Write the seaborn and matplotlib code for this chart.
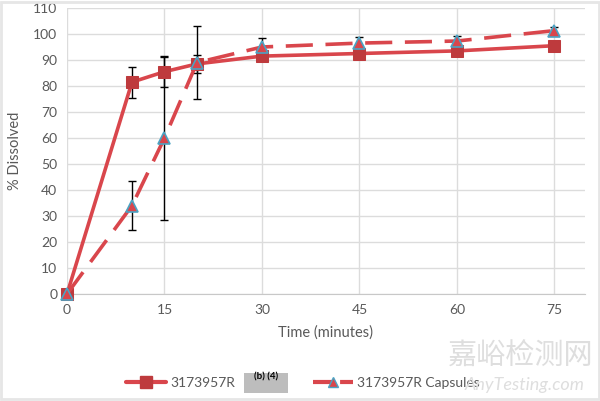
import matplotlib
matplotlib.use('Agg')
import matplotlib.pyplot as plt
import numpy as np
import pandas as pd
import seaborn as sns
from matplotlib.lines import Line2D
from matplotlib.patches import Rectangle

# data
time = [0, 10, 15, 20, 30, 45, 60, 75]
tablet = [0, 81.5, 85.5, 88.5, 91.5, 92.5, 93.5, 95.5]
tablet_sd = [0, 6.0, 5.8, 3.4, 0.8, 0.8, 0.8, 0.8]
capsule = [0, 34, 60, 89, 95, 96.5, 97.3, 101.3]
capsule_sd = [0, 9.5, 31.7, 14, 3.6, 2.3, 1.9, 1.4]
x_ticks = [0, 15, 30, 45, 60, 75]
y_ticks = list(range(0, 111, 10))
labels = ['3173957R', '3173957R Capsules']

sns.set_style('white')
plt.rcParams['font.family'] = ['Lato', 'DejaVu Sans']

red = '#d9464c'
dark_red = '#be3a3d'
blue_edge = '#4ba3c3'
grey_txt = '#595959'
grid_c = '#dcdcdc'

fig = plt.figure(figsize=(6.0, 4.01), dpi=100)
ax = fig.add_axes([67 / 600, 1 - 294 / 401, (585 - 67) / 600, (294 - 8) / 401])

# error bars
ax.errorbar(time, tablet, yerr=tablet_sd, fmt='none', ecolor='black',
            elinewidth=1, capsize=3, capthick=1, zorder=2)
ax.errorbar(time, capsule, yerr=capsule_sd, fmt='none', ecolor='black',
            elinewidth=1, capsize=3, capthick=1, zorder=2)

df1 = pd.DataFrame({'time': time, 'pct': tablet})
df2 = pd.DataFrame({'time': time, 'pct': capsule})

sns.lineplot(data=df1, x='time', y='pct', ax=ax, color=red, linewidth=2.6,
             marker='s', markersize=9, markerfacecolor=dark_red,
             markeredgecolor=dark_red, zorder=3)
sns.lineplot(data=df2, x='time', y='pct', ax=ax, color=red, linewidth=2.6,
             marker='^', markersize=8, markerfacecolor=red,
             markeredgecolor=blue_edge, markeredgewidth=1.2, zorder=4)
line_t, line_c = ax.get_lines()[-2:]
line_c.set_dashes((7.5, 3.5))
for ln in (line_t, line_c):
    ln.set_clip_on(False)

ax.set_xlim(0, 79.7)
ax.set_ylim(0, 110)
ax.set_xticks(x_ticks)
ax.set_yticks(y_ticks)
ax.grid(True, color=grid_c, linewidth=1)
ax.set_axisbelow(True)
for s in ['top', 'right', 'left']:
    ax.spines[s].set_visible(False)
ax.spines['bottom'].set_color('#c8c8c8')
ax.tick_params(axis='both', length=0, labelsize=10, labelcolor=grey_txt, pad=7)
ax.set_xlabel('Time (minutes)', fontsize=10.5, color=grey_txt, labelpad=7)
ax.set_ylabel('% Dissolved', fontsize=10.5, color=grey_txt, labelpad=8)

# legend at the bottom
h1 = Line2D([], [], color=red, linewidth=3, marker='s', markersize=8,
            markerfacecolor=dark_red, markeredgecolor=dark_red)
h2 = Line2D([], [], color=red, linewidth=3, marker='^', markersize=7,
            markerfacecolor=red, markeredgecolor=blue_edge, dashes=(5, 1.5))
fig.legend([h1, h2], labels, loc='center', bbox_to_anchor=(0.505, 1 - 383 / 401),
           ncol=2, frameon=False, fontsize=10, labelcolor=grey_txt,
           handlelength=2.9, columnspacing=5.6, handletextpad=0.3)

# redaction box
fig.patches.append(Rectangle((244 / 600, 1 - 393 / 401), 44 / 600, 20 / 401,
                             transform=fig.transFigure, facecolor='#bdbdbd',
                             edgecolor='none', zorder=5))
fig.text(266 / 600, 1 - 377 / 401, '(b) (4)', fontsize=7, fontweight='bold',
         ha='center', va='center', color='black', zorder=6)

# watermark
fig.text(521 / 600, 1 - 357 / 401, '嘉峪检测网', fontsize=21, color='#dedede',
         ha='center', va='center', family=['Noto Sans CJK SC', 'DejaVu Sans'], zorder=7)
fig.text(525 / 600, 1 - 385 / 401, 'AnyTesting.com', fontsize=13, color='#dedede',
         ha='center', va='center', style='italic', zorder=7)

# light frame around the figure
fig.patches.append(Rectangle((0.002, 0.004), 0.996, 0.992, transform=fig.transFigure,
                             facecolor='none', edgecolor='#e6e6e6', linewidth=2))

fig.savefig('out.png', dpi=100, facecolor='white')
